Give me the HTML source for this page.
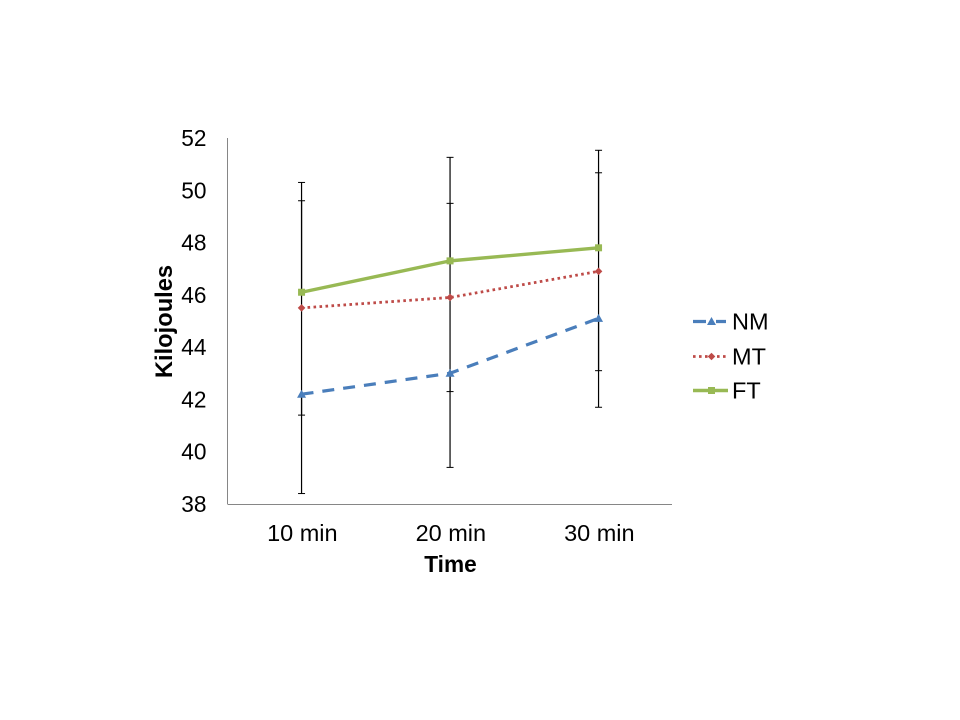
<!DOCTYPE html>
<html>
<head>
<meta charset="utf-8">
<title>Kilojoules over time</title>
<style>
html,body{margin:0;padding:0;background:#fff;width:960px;height:720px;overflow:hidden}
svg{display:block}
text{font-family:"Liberation Sans",sans-serif;fill:#000;font-size:23.5px}
</style>
</head>
<body>
<svg id="chart" width="960" height="720" viewBox="0 0 960 720" xmlns="http://www.w3.org/2000/svg"></svg>
<script>
const categories = ['10 min', '20 min', '30 min'];
const yTickLabels = [38, 40, 42, 44, 46, 48, 50, 52];
const seriesNames = ['NM', 'MT', 'FT'];
const nmValues = [42.2, 43.0, 45.1];
const mtValues = [45.5, 45.9, 46.9];
const ftValues = [46.1, 47.3, 47.8];
const nmErrorMinus = [3.8, 3.6, 3.4];
const mtErrorPlus = [4.1, 3.6, 3.77];
const mtErrorMinus = [4.1, 3.6, 3.8];
const ftErrorPlus = [4.2, 3.96, 3.73];

const svg = document.getElementById('chart');
const NS = 'http://www.w3.org/2000/svg';
const plotLeft = 227.5, plotRight = 672, plotTop = 138, plotBottom = 504;
const bandLeft = 227.3, bandRight = 672.8;
const yMin = yTickLabels[0], yMax = yTickLabels[yTickLabels.length - 1];
function xPos(i) { return bandLeft + (bandRight - bandLeft) * (i + 0.5) / categories.length; }
function yPos(v) { return plotBottom - (v - yMin) / (yMax - yMin) * (plotBottom - plotTop); }
function make(tag, attrs, parent) {
  const el = document.createElementNS(NS, tag);
  for (const k in attrs) el.setAttribute(k, attrs[k]);
  (parent || svg).appendChild(el);
  return el;
}
function marker(kind, cx, cy, color, parent) {
  if (kind === 'triangle') return make('polygon', { points: `${cx},${cy - 4.5} ${cx + 4.5},${cy + 3.5} ${cx - 4.5},${cy + 3.5}`, fill: color }, parent);
  if (kind === 'diamond') return make('polygon', { points: `${cx},${cy - 3.8} ${cx + 3.8},${cy} ${cx},${cy + 3.8} ${cx - 3.8},${cy}`, fill: color }, parent);
  return make('rect', { x: cx - 3.5, y: cy - 3.5, width: 7, height: 7, fill: color }, parent);
}

// axes
const yAxis = make('line', { x1: plotLeft, x2: plotLeft, y1: plotTop, y2: plotBottom, stroke: '#868686', 'stroke-width': 1 });


const xAxis = make('line', { x1: plotLeft, x2: plotRight, y1: plotBottom + 0.5, y2: plotBottom + 0.5, stroke: '#868686', 'stroke-width': 1 });



yTickLabels.forEach(function (t) {
  const el = make('text', { x: 206.5, y: yPos(t) + 8, 'text-anchor': 'end', style: 'font-size:22.67px' });
  el.textContent = t;
  
  
});
categories.forEach(function (c, i) {
  const el = make('text', { x: xPos(i) + 0.8, y: 541, 'text-anchor': 'middle' });
  el.textContent = c;
  
  
});

const yTitle = make('text', { transform: 'translate(172,321.5) rotate(-90)', 'text-anchor': 'middle', 'font-weight': 'bold', style: 'font-size:23.7px' });
yTitle.textContent = 'Kilojoules';


const xTitle = make('text', { x: 450.5, y: 572, 'text-anchor': 'middle', 'font-weight': 'bold', style: 'font-size:22.67px' });
xTitle.textContent = 'Time';



// error bars
function errorBar(i, value, plus, minus) {
  const x = xPos(i), top = yPos(value + plus), bottom = yPos(value - minus);
  const bar = make('line', { x1: x, x2: x, y1: top, y2: bottom, stroke: '#000', 'stroke-width': 1.2 });
  
  
  if (plus > 0) {
    const capTop = make('line', { x1: x - 3.5, x2: x + 3.5, y1: top, y2: top, stroke: '#000', 'stroke-width': 1 });
    
    
  }
  if (minus > 0) {
    const capBottom = make('line', { x1: x - 3.5, x2: x + 3.5, y1: bottom, y2: bottom, stroke: '#000', 'stroke-width': 1 });
    
    
  }
}
categories.forEach(function (c, i) {
  errorBar(i, nmValues[i], 0, nmErrorMinus[i]);
  errorBar(i, mtValues[i], mtErrorPlus[i], mtErrorMinus[i]);
  errorBar(i, ftValues[i], ftErrorPlus[i], 0);
});

// series
const seriesStyles = [
  { color: '#4a7ebb', width: 3.2, dash: '12 9', kind: 'triangle' },
  { color: '#be4b48', width: 2.8, dash: '2.6 3.4', kind: 'diamond' },
  { color: '#98b954', width: 3.4, dash: '', kind: 'square' }
];
const allValues = [nmValues, mtValues, ftValues];
allValues.forEach(function (vals, s) {
  const st = seriesStyles[s];
  const pts = vals.map(function (v, i) { return xPos(i) + ',' + yPos(v); }).join(' ');
  const line = make('polyline', { points: pts, fill: 'none', stroke: st.color, 'stroke-width': st.width, 'stroke-dasharray': st.dash, 'stroke-linejoin': 'round' });
  
  
  vals.forEach(function (v, i) {
    const m = marker(st.kind, xPos(i), yPos(v), st.color);
    
    
  });
});

// legend
const legendRows = [321.5, 356.5, 390.5];
seriesNames.forEach(function (name, s) {
  const st = seriesStyles[s];
  const ly = legendRows[s];
  const g = make('g', {});
  
  
  make('line', { x1: 693, x2: s === 2 ? 728 : 726, y1: ly, y2: ly, stroke: st.color, 'stroke-width': st.width, 'stroke-dasharray': s === 0 ? '13 10' : st.dash }, g);
  marker(st.kind, 711.5, ly, st.color, g);
  const label = make('text', { x: 732, y: ly + 8 }, g);
  label.textContent = name;
});
</script>
</body>
</html>
